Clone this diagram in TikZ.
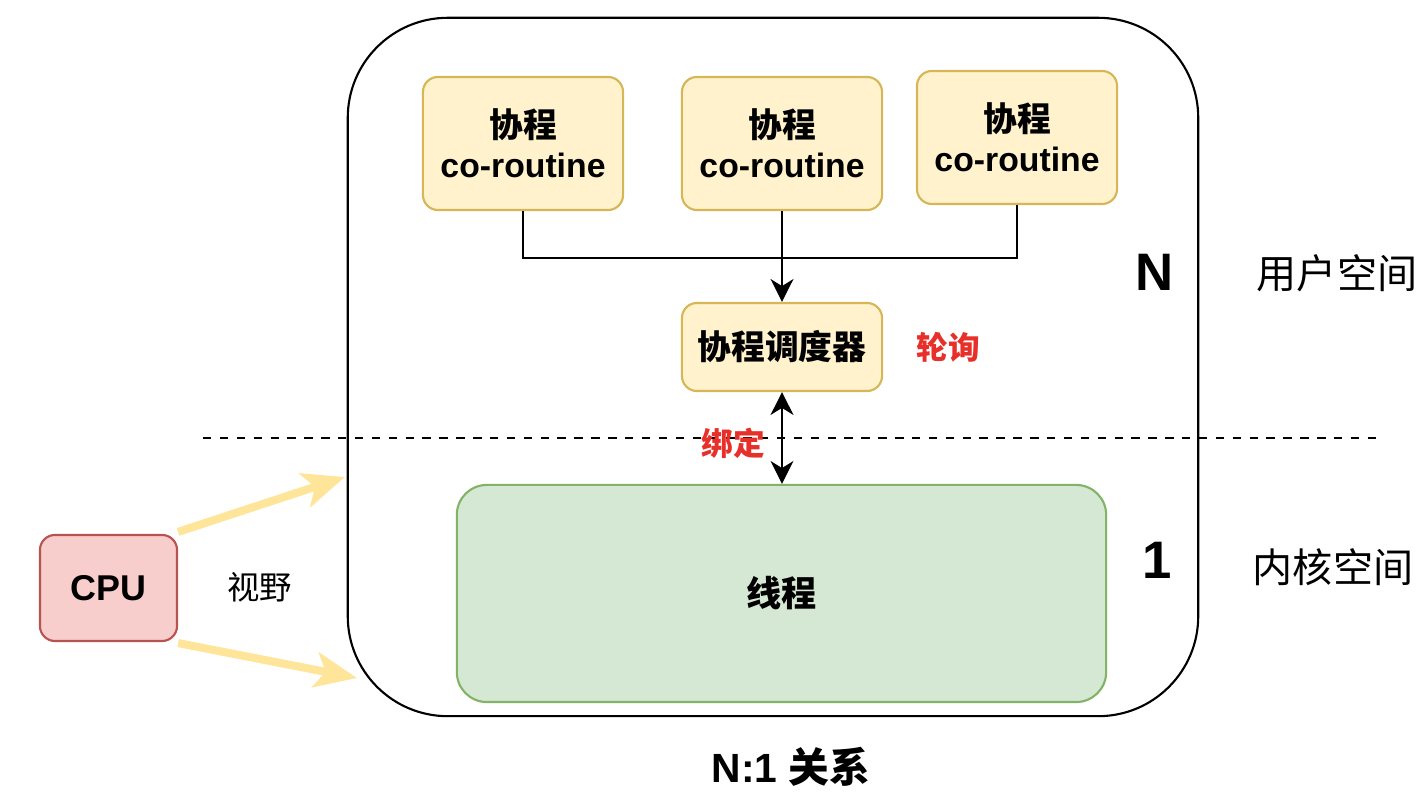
\documentclass[tikz,border=0pt]{standalone}
\usepackage{fontspec}
\setmainfont{Liberation Sans}
\newfontfamily\cjk{Noto Sans CJK SC}
\usetikzlibrary{arrows.meta}
\definecolor{coFill}{HTML}{FFF2CC}
\definecolor{coLine}{HTML}{D6B656}
\definecolor{thFill}{HTML}{D5E8D4}
\definecolor{thLine}{HTML}{82B366}
\definecolor{cpuFill}{HTML}{F8CECC}
\definecolor{cpuLine}{HTML}{B85450}
\definecolor{viewLine}{HTML}{FFE599}
\definecolor{noteRed}{HTML}{E8302A}
\tikzset{
  cobox/.style={draw=coLine, fill=coFill, line width=0.6pt, rounded corners=0.15cm,
    minimum width=2cm, align=center, font=\fontsize{9.6}{11.5}\selectfont\bfseries},
  link/.style={line width=0.5pt},
  tip/.style={-{Stealth[length=6.5pt, width=6.5pt, inset=2pt]}},
  bothtip/.style={{Stealth[length=6.5pt, width=6.5pt, inset=2pt]}-{Stealth[length=6.5pt, width=6.5pt, inset=2pt]}},
  view/.style={draw=viewLine, line width=2.3pt, -{Stealth[length=12pt, width=10pt, inset=3pt]}},
  note/.style={text=noteRed, font=\fontsize{9}{11}\selectfont\cjk\bfseries},
  side/.style={font=\fontsize{11.4}{13}\selectfont\cjk}
}
\begin{document}
\begin{tikzpicture}[x=0.01cm, y=-0.01cm]
\useasboundingbox (0,0) rectangle (1426,804);

% outer frame
\node[draw, line width=0.6pt, rounded corners=1cm, minimum width=8.5cm, minimum height=6.98cm] (frame) at (773,367) {};

% user / kernel split
\draw[dashed, line width=0.4pt, dash pattern=on 2.4pt off 2.4pt] (203,438) -- (1378,438);

% coroutines
\node[cobox, minimum height=1.33cm] (co1) at (523,143.5) {{\cjk 协程}\\co-routine};
\node[cobox, minimum height=1.33cm] (co2) at (782,143.5) {{\cjk 协程}\\co-routine};
\node[cobox, minimum height=1.33cm] (co3) at (1017,137.5) {{\cjk 协程}\\co-routine};

\node[cobox, minimum height=0.88cm, font=\fontsize{9.6}{12}\selectfont\cjk\bfseries] (sched) at (782,347) {协程调度器};

\node[draw=thLine, fill=thFill, line width=0.6pt, rounded corners=0.3cm, minimum width=6.49cm, minimum height=2.17cm,
  font=\fontsize{10}{12}\selectfont\cjk\bfseries] (thread) at (781.5,593.5) {线程};

\node[draw=cpuLine, fill=cpuFill, line width=0.6pt, rounded corners=0.15cm, minimum width=1.37cm, minimum height=1.06cm,
  font=\fontsize{10.2}{12}\selectfont\bfseries] (cpu) at (108.5,588) {CPU};

% connectors
\coordinate (join) at (782,258);
\draw[link] (co1.south) |- (join);
\draw[link] (co3.south) |- (join);
\draw[link, line width=0.6pt, tip] (co2.south) -- (sched.north);
\draw[link, line width=0.6pt, bothtip] (sched.south) -- (sched.south |- thread.north);

% cpu view
\coordinate (viewTop) at (345,477);
\coordinate (viewBot) at (357,678);
\draw[view] (cpu.north east) ++(0,-2) -- (viewTop);
\draw[view] (cpu.south east) ++(0,1) -- (viewBot);

% labels
\node[font=\fontsize{9.2}{11}\selectfont\cjk] (viewText) at (260,587) {视野};
\node[note] (poll) at (948,347) {轮询};
\node[note] (bind) at (733,443) {绑定};
\node[font=\fontsize{15}{17}\selectfont\bfseries] (nMark) at (1155,272) {N};
\node[font=\fontsize{15}{17}\selectfont\bfseries] (oneMark) at (1157,560) {1};
\node[side] (user) at (1337,273) {用户空间};
\node[side] (kernel) at (1333,567) {内核空间};
\node[font=\fontsize{11.6}{13}\selectfont\bfseries] (title) at (791,767) {N:1 {\cjk 关系}};
\end{tikzpicture}
\end{document}
